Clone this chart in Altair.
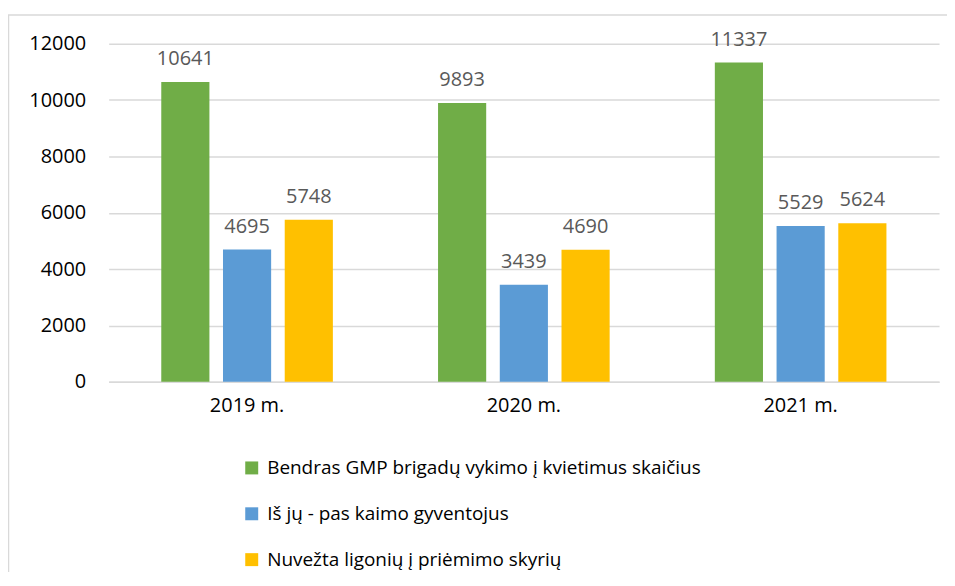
import altair as alt
import pandas as pd

years = ["2019 m.", "2020 m.", "2021 m."]
series = [
    "Bendras GMP brigadų vykimo į kvietimus skaičius",
    "Iš jų - pas kaimo gyventojus",
    "Nuvežta ligonių į priėmimo skyrių",
]
colors = ["#70AD47", "#5B9BD5", "#FFC000"]
total_calls = [10641, 9893, 11337]
rural_calls = [4695, 3439, 5529]
admitted = [5748, 4690, 5624]

rows = []
for i, y in enumerate(years):
    for s, vals in zip(series, [total_calls, rural_calls, admitted]):
        rows.append({"year": y, "series": s, "value": vals[i]})
df = pd.DataFrame(rows)

FONT = "Open Sans"
FS = 20

x_enc = alt.X("year:N", sort=years, title=None,
              scale=alt.Scale(paddingInner=0.38, paddingOuter=0.19),
              axis=alt.Axis(labelAngle=0, ticks=False, labelPadding=14,
                            labelFontSize=FS, labelColor="#000000", labelFont=FONT,
                            domainColor="#d9d9d9", domainWidth=1.5, grid=False))
xoff = alt.XOffset("series:N", sort=series,
                   scale=alt.Scale(paddingInner=0.22, paddingOuter=0))
y_enc = alt.Y("value:Q", title=None,
              scale=alt.Scale(domain=[0, 12000], nice=False),
              axis=alt.Axis(values=[0, 2000, 4000, 6000, 8000, 10000, 12000],
                            format="d", ticks=False, domain=False, labelPadding=23,
                            labelFontSize=FS, labelColor="#000000", labelFont=FONT,
                            gridColor="#d9d9d9", gridWidth=1.5))

base = alt.Chart(df)

bars = base.mark_bar().encode(
    x=x_enc, xOffset=xoff, y=y_enc,
    color=alt.Color("series:N", sort=series,
                    scale=alt.Scale(domain=series, range=colors),
                    legend=alt.Legend(title=None, orient="none", legendX=134, legendY=416,
                                      direction="vertical", symbolType="square",
                                      symbolSize=169, symbolStrokeWidth=0,
                                      labelFontSize=19, labelFont=FONT, labelColor="#000000",
                                      rowPadding=26, labelOffset=6, labelLimit=800)),
)

labels = base.mark_text(baseline="alphabetic", dy=-17, fontSize=FS, font=FONT,
                        color="#595959").encode(
    x=alt.X("year:N", sort=years), xOffset=alt.XOffset("series:N", sort=series),
    y="value:Q", text="value:Q")

frame = alt.Chart(alt.Data(values=[{}])).mark_rect(
    fill=None, stroke="#d9d9d9", strokeWidth=1.5).encode(
    x=alt.value(-100.5), x2=alt.value(880), y=alt.value(-29), y2=alt.value(700))

chart = alt.layer(frame, bars, labels).properties(
    width=833, height=339,
    autosize=alt.AutoSizeParams(type="none"),
    padding={"left": 101, "top": 35, "right": 8, "bottom": 190},
).configure_view(stroke=None)

chart.save("out.html", embed_options={"renderer": "svg", "actions": False})
